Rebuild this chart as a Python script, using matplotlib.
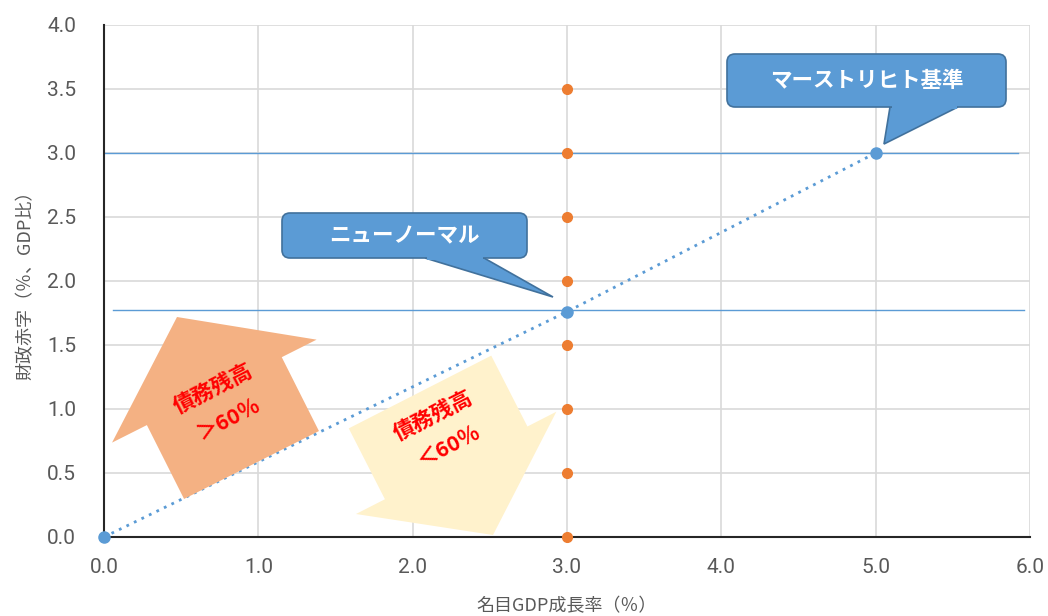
import numpy as np
import matplotlib
matplotlib.use("Agg")
import matplotlib.pyplot as plt
from matplotlib.patches import Polygon, FancyBboxPatch

plt.rcParams['font.family'] = ['Noto Sans CJK JP', 'DejaVu Sans']

# ---- data ----
path_x = [0.0, 3.0, 5.0]
path_y = [0.0, 1.76, 3.0]
vert_x = [3.0] * 8
vert_y = [0.0, 0.5, 1.0, 1.5, 2.0, 2.5, 3.0, 3.5]
ref_lines = [(3.0, 0.0, 5.92), (1.77, 0.06, 5.96)]   # (y, xmin, xmax)
x_ticks = [0, 1, 2, 3, 4, 5, 6]
y_ticks = [0, 0.5, 1.0, 1.5, 2.0, 2.5, 3.0, 3.5, 4.0]
xlabel = "名目GDP成長率（％）"
ylabel = "財政赤字（％、GDP比）"
callout_new = "ニューノーマル"
callout_maas = "マーストリヒト基準"
arrow_up_text = "債務残高\n＞60％"
arrow_dn_text = "債務残高\n＜60％"

W, H = 1048, 616
fig = plt.figure(figsize=(W / 100, H / 100), dpi=100)
ax = fig.add_axes([104 / W, 1 - 537 / H, (1030 - 104) / W, (537 - 25) / H])

BLUE = "#5B9BD5"
ORANGE = "#ED7D31"
GREY = "#595959"

ax.set_xlim(0, 6)
ax.set_ylim(0, 4)
ax.set_xticks(x_ticks)
ax.set_yticks(y_ticks)
ax.set_xticklabels([f"{v:.1f}" for v in x_ticks], fontfamily="Roboto")
ax.set_yticklabels([f"{v:.1f}" for v in y_ticks], fontfamily="Roboto")
ax.tick_params(length=0, labelsize=15, labelcolor=GREY)
ax.tick_params(axis="x", pad=15)
ax.tick_params(axis="y", pad=20)
ax.grid(True, color="#D9D9D9", linewidth=1.2)
ax.set_axisbelow(True)
for s in ["top", "right"]:
    ax.spines[s].set_visible(False)
for s in ["left", "bottom"]:
    ax.spines[s].set_color("#262626")
    ax.spines[s].set_linewidth(1.5)

ax.set_xlabel(xlabel, fontsize=13, color=GREY, labelpad=15)
ax.set_ylabel(ylabel, fontsize=13, color=GREY, labelpad=9)

for yv, x0, x1 in ref_lines:
    ax.plot([x0, x1], [yv, yv], color=BLUE, linewidth=1.0, zorder=2)

ax.plot(path_x, path_y, linestyle=(0, (1, 2)), color=BLUE, linewidth=2.0,
        marker="o", markersize=8, markerfacecolor=BLUE, markeredgecolor=BLUE,
        zorder=5, clip_on=False)
ax.plot(vert_x, vert_y, linestyle="none", marker="o", markersize=7,
        color=ORANGE, zorder=5, clip_on=False)


def px(pts):
    pts = np.asarray(pts, dtype=float)
    return np.column_stack([pts[:, 0] / W, 1 - pts[:, 1] / H])


def block_arrow(tail, tip, shaft_w, head_w, head_len):
    tail = np.array(tail, float)
    tip = np.array(tip, float)
    d = tip - tail
    L = np.hypot(*d)
    u = d / L
    n = np.array([-u[1], u[0]])
    base = tip - u * head_len
    pts = [tail + n * shaft_w / 2, base + n * shaft_w / 2, base + n * head_w / 2,
           tip, base - n * head_w / 2, base - n * shaft_w / 2, tail - n * shaft_w / 2]
    return px(pts)


fig.patches.append(Polygon(block_arrow((251.5, 465), (177, 317), 151, 229, 83),
                           closed=True, transform=fig.transFigure,
                           facecolor="#F4B183", edgecolor="none", zorder=3))
fig.patches.append(Polygon(block_arrow((420, 392), (493, 535), 160, 225, 81),
                           closed=True, transform=fig.transFigure,
                           facecolor="#FFF2CC", edgecolor="none", zorder=3))
ax.set_zorder(1)
ax.patch.set_alpha(0)

fig.text(221 / W, 1 - 404 / H, arrow_up_text, color="red", fontsize=15.5,
         fontweight="bold", rotation=27, ha="center", va="center",
         linespacing=1.8, rotation_mode="anchor", zorder=4)
fig.text(441 / W, 1 - 431 / H, arrow_dn_text, color="red", fontsize=15.5,
         fontweight="bold", rotation=27, ha="center", va="center",
         linespacing=1.8, rotation_mode="anchor", zorder=4)


def callout(box, ptr, text):
    x0, y0, x1, y1 = box
    EDGE = "#41719C"
    fig.patches.append(Polygon(px(ptr), closed=True, transform=fig.transFigure,
                               facecolor=BLUE, edgecolor=EDGE, linewidth=1.2, zorder=6))
    r = 8
    bb = FancyBboxPatch((x0 / W, 1 - y1 / H), (x1 - x0) / W, (y1 - y0) / H,
                        boxstyle=f"round,pad=0,rounding_size={r / W}",
                        mutation_aspect=W / H,
                        transform=fig.transFigure, facecolor=BLUE,
                        edgecolor=EDGE, linewidth=1.2, zorder=7)
    fig.patches.append(bb)
    (a, b), (c, d_) = ptr[0], ptr[1]
    cover = [(a + 1.5, y1 - 3), (c - 1.5, y1 - 3), (c - 1.5, y1 + 1.5), (a + 1.5, y1 + 1.5)]
    fig.patches.append(Polygon(px(cover), closed=True, transform=fig.transFigure,
                               facecolor=BLUE, edgecolor="none", zorder=8))
    fig.text((x0 + x1) / 2 / W, 1 - (y0 + y1) / 2 / H, text, color="white",
             fontsize=15.5, fontweight="bold", ha="center", va="center", zorder=9)


callout((282, 213, 527, 258), [(425, 258), (484, 258), (553, 297)], callout_new)
callout((727, 54, 1006, 107), [(890, 107), (958, 107), (884, 144)], callout_maas)

fig.savefig("out.png", dpi=100)
